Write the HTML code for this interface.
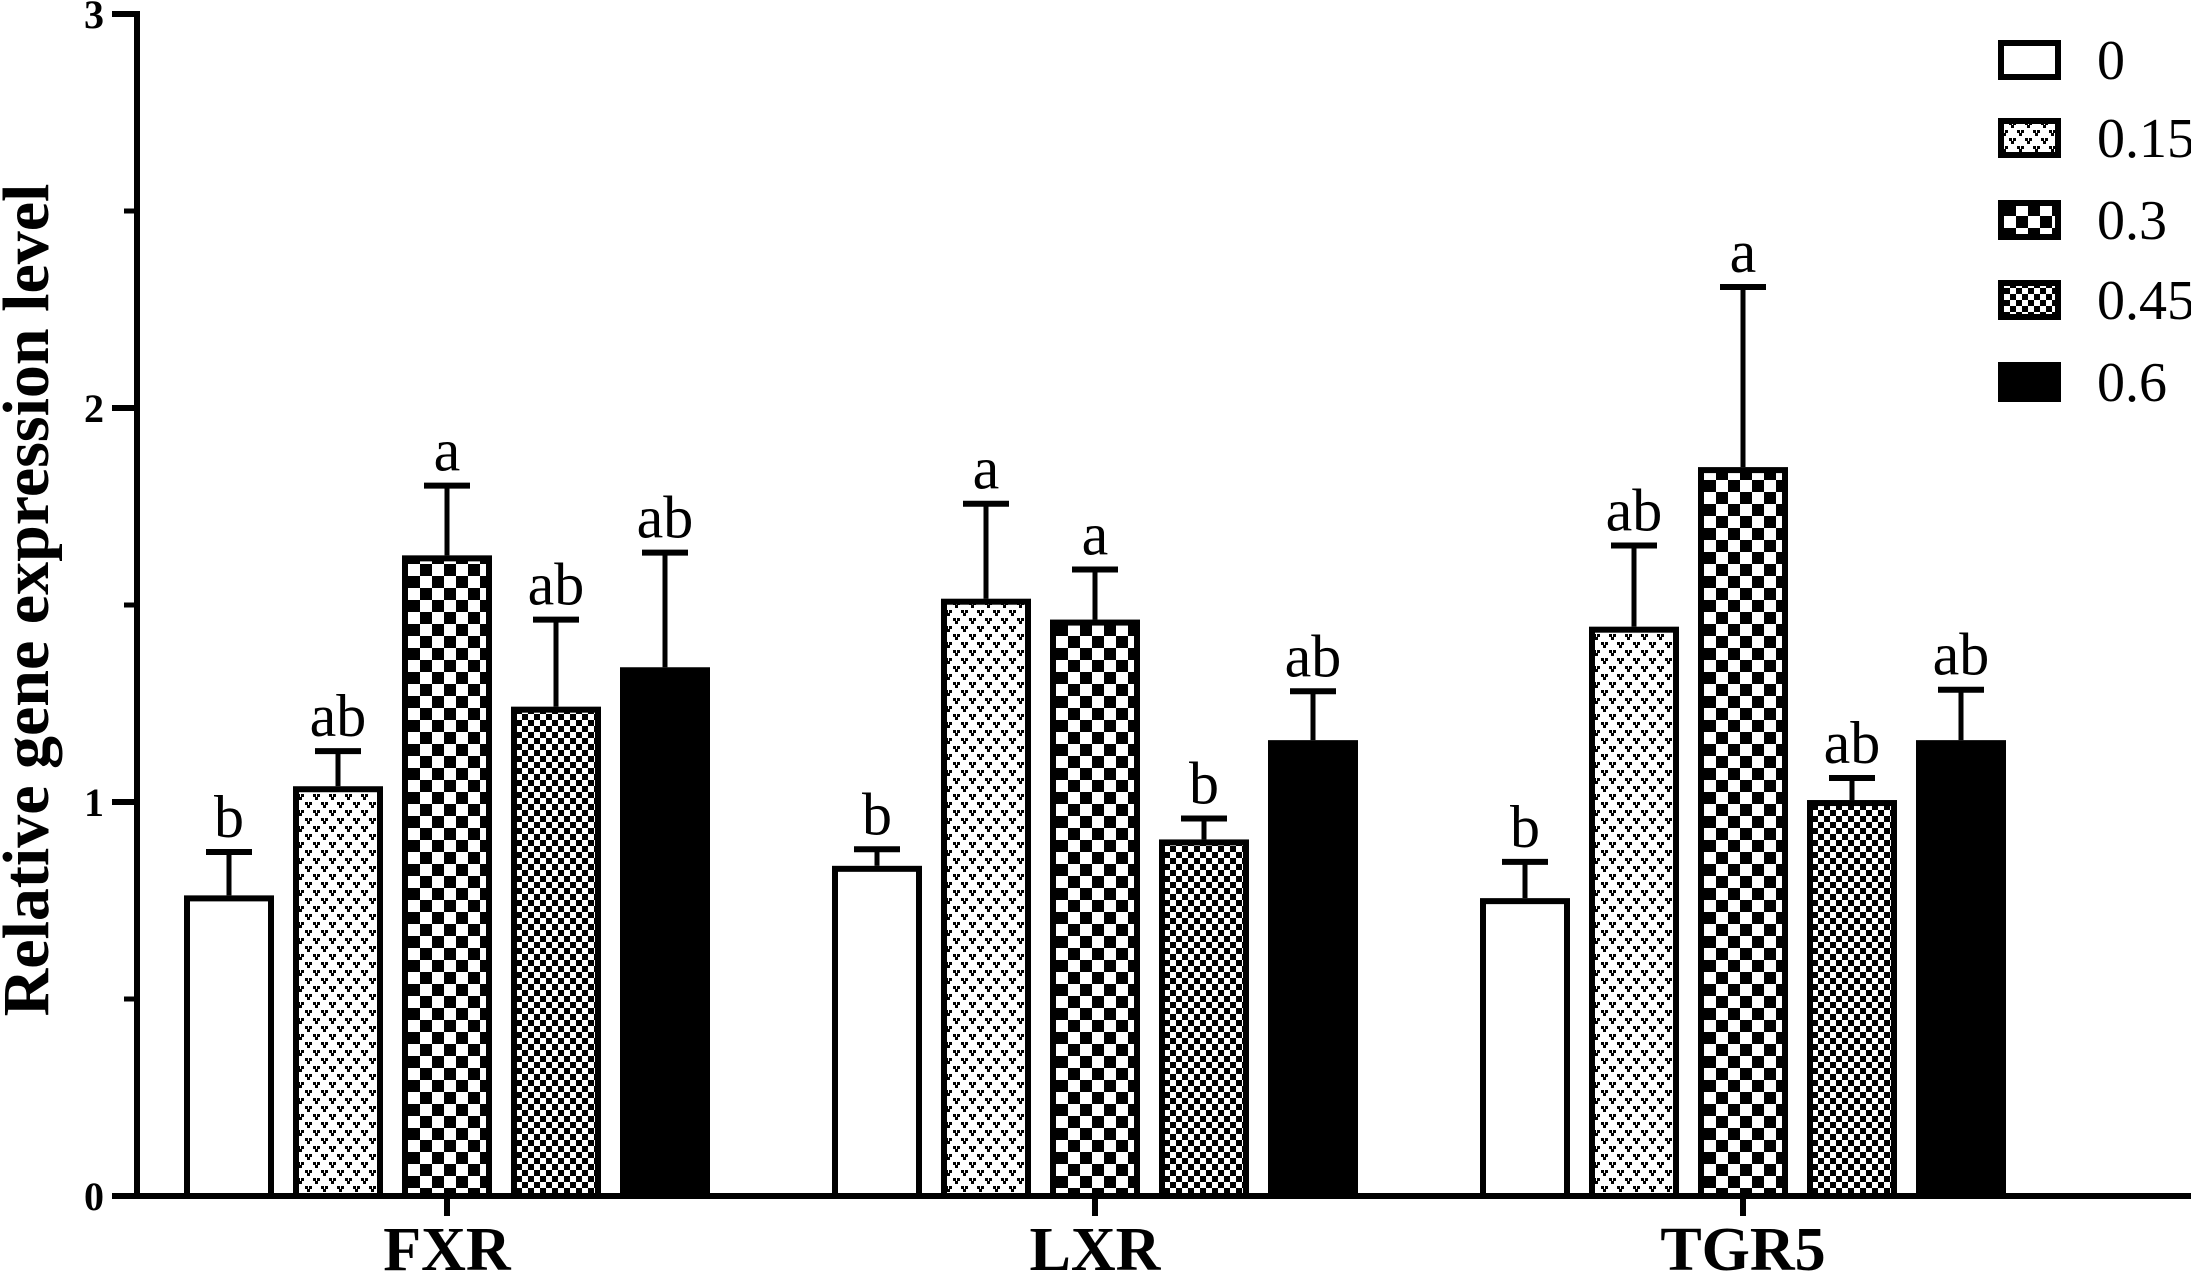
<!DOCTYPE html>
<html><head><meta charset="utf-8"><style>
html,body{margin:0;padding:0;background:#fff}
svg{display:block}
text{font-family:"Liberation Serif",serif}
</style></head><body>
<svg id="chart" width="2191" height="1282" xmlns="http://www.w3.org/2000/svg">
<defs>
<pattern id="p1" patternUnits="userSpaceOnUse" width="16" height="16">
<rect width="16" height="16" fill="#fff"/>
<rect x="1" y="2" width="3" height="3" fill="#000"/><rect x="5" y="2" width="3" height="3" fill="#000"/><rect x="3" y="5" width="3" height="3" fill="#000"/>
<rect x="9" y="10" width="3" height="3" fill="#000"/><rect x="13" y="10" width="3" height="3" fill="#000"/><rect x="11" y="13" width="3" height="3" fill="#000"/>
</pattern>
<pattern id="p2" patternUnits="userSpaceOnUse" width="24" height="24">
<rect width="24" height="24" fill="#fff"/><rect width="12" height="12" fill="#000"/><rect x="12" y="12" width="12" height="12" fill="#000"/>
</pattern>
<pattern id="p3" patternUnits="userSpaceOnUse" width="12" height="12">
<rect width="12" height="12" fill="#fff"/><rect width="6" height="6" fill="#000"/><rect x="6" y="6" width="6" height="6" fill="#000"/>
</pattern>
</defs>
<g id="plot"></g>
<text transform="translate(48,600) rotate(-90)" text-anchor="middle" font-size="66" font-weight="bold">Relative gene expression level</text>
</svg>
<script>
const categories = ["FXR","LXR","TGR5"];
const seriesNames = ["0","0.15","0.3","0.45","0.6"];
const means = [[0.763,1.04,1.626,1.242,1.342],[0.838,1.516,1.463,0.905,1.157],[0.756,1.445,1.85,1.005,1.157]];
const upper = [[0.873,1.129,1.803,1.463,1.633],[0.88,1.757,1.59,0.958,1.281],[0.848,1.651,2.307,1.061,1.285]];
const letters = [["b","ab","a","ab","ab"],["b","a","a","b","ab"],["b","ab","a","ab","ab"]];
const yTicks = [0,1,2,3];
const yMinor = [0.5,1.5,2.5];
const fills = ["#fff","url(#p1)","url(#p2)","url(#p3)","#000"];
const NS="http://www.w3.org/2000/svg";
const g=document.getElementById('plot');
const y0=1196,k=394,axX=137;
const y=v=>y0-v*k;
const groupX=i=>184+i*648;
const barX=(i,j)=>groupX(i)+j*109;
const BW=90;
function mk(t,a,txt){const e=document.createElementNS(NS,t);for(const q in a)e.setAttribute(q,a[q]);if(txt!==undefined)e.textContent=txt;g.appendChild(e);return e;}
categories.forEach((c,i)=>{
  means[i].forEach((m,j)=>{
    const x=barX(i,j),cx=x+BW/2;
    const eb=mk('line',{x1:cx,x2:cx,y1:y(m),y2:y(upper[i][j]),stroke:'#000','stroke-width':5});
    
    
    const cap=mk('line',{x1:cx-23,x2:cx+23,y1:y(upper[i][j]),y2:y(upper[i][j]),stroke:'#000','stroke-width':6});
    
    
    const r=mk('rect',{x:x+3,y:y(m)+3,width:BW-6,height:Math.max(0,y0-y(m)-3),fill:fills[j],stroke:'#000','stroke-width':6});
    
    
    const t=mk('text',{x:cx,y:y(upper[i][j])-15,'text-anchor':'middle','font-size':60},letters[i][j]);
    
    
  });
  const gc=barX(i,2)+BW/2;
  const tk=mk('line',{x1:gc,x2:gc,y1:y0,y2:y0+20,stroke:'#000','stroke-width':6});
  
  
  const lb=mk('text',{x:gc,y:1270,'text-anchor':'middle','font-size':62,'font-weight':'bold'},c);
  
  
});
const ax=mk('line',{x1:axX,x2:axX,y1:y(3)-3,y2:y0+3,stroke:'#000','stroke-width':6});


const xa=mk('line',{x1:112,x2:2191,y1:y0,y2:y0,stroke:'#000','stroke-width':6});


yTicks.forEach(v=>{
  const l=mk('line',{x1:112,x2:axX,y1:y(v),y2:y(v),stroke:'#000','stroke-width':6});
  
  
  const t=mk('text',{x:104,y:y(v)+14,'text-anchor':'end','font-size':40,'font-weight':'bold'},String(v));
  
  
});
yMinor.forEach(v=>{
  const l=mk('line',{x1:124,x2:axX,y1:y(v),y2:y(v),stroke:'#000','stroke-width':5});
  
  
});
const legY=[60,138,220,300,382];
seriesNames.forEach((s,j)=>{
  const r=mk('rect',{x:2001,y:legY[j]-17,width:57,height:34,fill:fills[j],stroke:'#000','stroke-width':6});
  
  
  const t=mk('text',{x:2097,y:legY[j]+19,'font-size':56},s);
  
  
});
</script>
</body></html>
